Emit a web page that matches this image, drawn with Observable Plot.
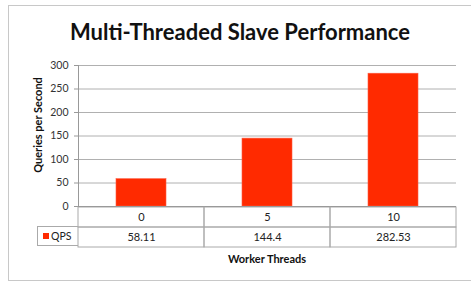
<!DOCTYPE html>
<html>
<head>
<meta charset="utf-8">
<script src="https://cdn.jsdelivr.net/npm/d3@7"></script>
<script src="https://cdn.jsdelivr.net/npm/@observablehq/plot@0.6"></script>
<style>
  html, body { margin: 0; padding: 0; background: #fff; }
  #wrap { position: relative; width: 471px; height: 282px; overflow: hidden; background: #fff; font-family: Lato, "Open Sans", sans-serif; }
  #frame { position: absolute; left: 8px; top: 5px; width: 480px; height: 274px; border: 1px solid #c8c8c8; }
  #title { position: absolute; left: 0; width: 480px; top: 17px; text-align: center; font-weight: bold; font-size: 22px; color: #111; line-height: 30px; }
  #ylabel { position: absolute; left: 37px; top: 125px; transform: translate(-50%, -50%) rotate(-90deg); font-weight: bold; font-size: 11px; color: #111; white-space: nowrap; }
  #xlabel { position: absolute; left: 267px; top: 258px; transform: translate(-50%, -50%); font-weight: bold; font-size: 11px; color: #111; white-space: nowrap; }
  #chart { position: absolute; left: 0; top: 0; }
  #table { position: absolute; left: 0; top: 205px; }
  #legend { position: absolute; left: 37px; top: 226px; width: 41px; height: 20px; border: 1px solid #aaa; border-right: none; box-sizing: border-box; font-size: 10.5px; color: #222; display: flex; align-items: center; padding-left: 5px; }
  #legend .sw { display: inline-block; width: 6px; height: 6px; background: #ff2a00; margin-right: 2px; }
  svg { overflow: visible; }
</style>
</head>
<body>
<div id="wrap">
  <div id="frame"></div>
  <div id="title">Multi-Threaded Slave Performance</div>
  <div id="chart"></div>
  <div id="table"></div>
  <div id="legend"><span class="sw"></span><span id="seriesName"></span></div>
  <div id="ylabel">Queries per Second</div>
  <div id="xlabel">Worker Threads</div>
</div>
<script>
const categories = ["0", "5", "10"];
const qpsValues = [58.11, 144.4, 282.53];
const qpsLabels = ["58.11", "144.4", "282.53"];
const yTicks = [0, 50, 100, 150, 200, 250, 300];
const seriesName = "QPS";

document.getElementById("seriesName").textContent = seriesName;

const data = categories.map((c, i) => ({cat: c, qps: qpsValues[i]}));
const rowKeys = ["cat", "val"];
const cells = categories.flatMap((c, i) => [
  {cat: c, row: "cat", text: c},
  {cat: c, row: "val", text: qpsLabels[i]}
]);

const font = "Lato, 'Open Sans', sans-serif";

const chart = Plot.plot({
  width: 471,
  height: 207,
  marginTop: 65,
  marginBottom: 1,
  marginLeft: 78,
  marginRight: 15,
  style: {fontFamily: font, background: "transparent", overflow: "visible"},
  x: {domain: categories, padding: 0, axis: null},
  y: {domain: [0, 300], axis: null},
  marks: [
    Plot.gridY(yTicks, {stroke: "#b0b0b0", strokeOpacity: 1}),
    Plot.axisY(yTicks, {tickSize: 4, tickPadding: 6, fontSize: 10.5, label: null, stroke: "#999", fill: "#333"}),
    Plot.barY(data, {x: "cat", y: "qps", fill: "#ff2a00", stroke: "#ff5a40", strokeWidth: 0.6, insetLeft: 38, insetRight: 38}),
    Plot.frame({anchor: "left", stroke: "#999"}),
    Plot.ruleY([0], {stroke: "#888"})
  ]
});
document.getElementById("chart").appendChild(chart);

const table = Plot.plot({
  width: 471,
  height: 43,
  marginTop: 1,
  marginBottom: 1,
  marginLeft: 78,
  marginRight: 15,
  style: {fontFamily: font, background: "transparent", overflow: "visible"},
  x: {domain: categories, padding: 0, axis: null},
  y: {domain: rowKeys, padding: 0, axis: null},
  marks: [
    Plot.cell(cells, {x: "cat", y: "row", fill: "none", stroke: "#aaa", inset: 0}),
    Plot.text(cells, {x: "cat", y: "row", text: "text", fontSize: 11, fill: "#222"})
  ]
});
document.getElementById("table").appendChild(table);
</script>
</body>
</html>
